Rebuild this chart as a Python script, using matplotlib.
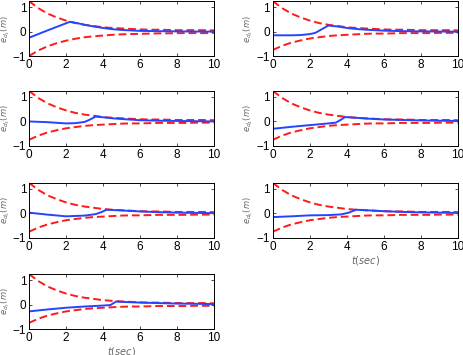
import numpy as np
import matplotlib
matplotlib.use("Agg")
import matplotlib.pyplot as plt

plt.rcParams['font.family'] = ['Liberation Sans', 'DejaVu Sans']

# envelope samples (t every 0.5 s)
t_env = [0, 0.5, 1, 1.5, 2, 2.5, 3, 3.5, 4, 4.5, 5, 5.5, 6, 6.5, 7, 7.5, 8, 8.5, 9, 9.5, 10]
upper = [1.25, 0.96, 0.74, 0.58, 0.45, 0.35, 0.28, 0.23, 0.18, 0.15, 0.13, 0.11, 0.09, 0.08,
         0.08, 0.07, 0.06, 0.06, 0.06, 0.06, 0.05]
lower_1 = [-1.0, -0.77, -0.60, -0.47, -0.37, -0.29, -0.23, -0.19, -0.16, -0.13, -0.11, -0.10,
           -0.09, -0.08, -0.07, -0.07, -0.06, -0.06, -0.06, -0.06, -0.05]
lower = [-0.75, -0.58, -0.45, -0.36, -0.28, -0.23, -0.18, -0.15, -0.13, -0.11, -0.09, -0.08,
         -0.08, -0.07, -0.06, -0.06, -0.06, -0.06, -0.05, -0.05, -0.05]

# error curves
t1 = [0, 1, 2.2, 2.6, 3, 3.5, 4, 4.5, 5, 6, 7, 8, 10]
e1 = [-0.25, 0.05, 0.40, 0.35, 0.28, 0.21, 0.15, 0.10, 0.07, 0.03, 0.02, 0.01, 0.0]
t2 = [0, 1, 1.5, 2, 2.3, 2.6, 3.0, 3.5, 4, 4.5, 5, 6, 7, 8, 10]
e2 = [-0.15, -0.15, -0.14, -0.10, -0.05, 0.08, 0.25, 0.21, 0.15, 0.11, 0.08, 0.04, 0.02, 0.01, 0.0]
t3 = [0, 1, 2, 2.5, 3, 3.3, 3.6, 4, 4.5, 5, 6, 7, 8, 10]
e3 = [0.0, -0.03, -0.08, -0.07, -0.02, 0.08, 0.20, 0.17, 0.13, 0.10, 0.05, 0.03, 0.02, 0.0]
t4 = [0, 1, 2, 3, 3.4, 3.7, 3.9, 4.5, 5, 6, 7, 8, 10]
e4 = [-0.30, -0.22, -0.15, -0.08, -0.05, 0.08, 0.18, 0.15, 0.12, 0.08, 0.06, 0.04, 0.02]
t5 = [0, 1, 2, 3, 3.6, 3.9, 4.2, 5, 6, 7, 8, 10]
e5 = [0.03, -0.05, -0.12, -0.09, -0.03, 0.05, 0.15, 0.12, 0.08, 0.05, 0.03, 0.01]
t6 = [0, 1, 2, 3, 3.7, 4.1, 4.5, 5, 6, 7, 8, 10]
e6 = [-0.15, -0.12, -0.08, -0.07, -0.04, 0.03, 0.15, 0.13, 0.09, 0.06, 0.04, 0.02]
t7 = [0, 1, 2, 3, 4, 4.4, 4.7, 5, 6, 7, 8, 10]
e7 = [-0.28, -0.20, -0.13, -0.08, -0.04, -0.02, 0.12, 0.11, 0.08, 0.06, 0.04, 0.02]

curves = [(t1, e1), (t2, e2), (t3, e3), (t4, e4), (t5, e5), (t6, e6), (t7, e7)]
ylabels = [r'$e_{d_%d}(m)$' % (i + 1) for i in range(7)]
x_ticks = [0, 2, 4, 6, 8, 10]
y_ticks = [-1, 0, 1]

fig = plt.figure(figsize=(4.64, 3.55), dpi=100)
lefts = [0.0625, 0.588]
bottoms = [0.842, 0.589, 0.330, 0.0732]
w, h = 0.399, 0.155

red = '#ff1a1a'
blue = '#2445ff'

for i, (tt, ee) in enumerate(curves):
    r, c = divmod(i, 2)
    ax = fig.add_axes([lefts[c], bottoms[r], w, h])
    lo = lower_1 if i == 0 else lower
    ax.plot(t_env, upper, color=red, lw=1.4, dashes=(4, 2))
    ax.plot(t_env, lo, color=red, lw=1.4, dashes=(4, 2))
    ax.plot(tt, ee, color=blue, lw=1.4)
    ax.set_xlim(0, 10)
    ax.set_ylim(-1, 1.25)
    ax.set_xticks(x_ticks)
    ax.set_yticks(y_ticks)
    ax.set_yticklabels(['\u22121', '0', '1'])
    ax.tick_params(direction='in', top=True, right=True, length=2.5, width=0.5,
                   labelsize=8.5, pad=2)
    for s in ax.spines.values():
        s.set_linewidth(0.7)
    ax.set_ylabel(ylabels[i], fontsize=6, color='#666666')
    ax.yaxis.set_label_coords(-0.094, 0.5)
    if i in (5, 6):
        ax.set_xlabel(r'$t(sec)$', fontsize=7, color='#666666', labelpad=1)

fig.savefig('out.png', dpi=100)
